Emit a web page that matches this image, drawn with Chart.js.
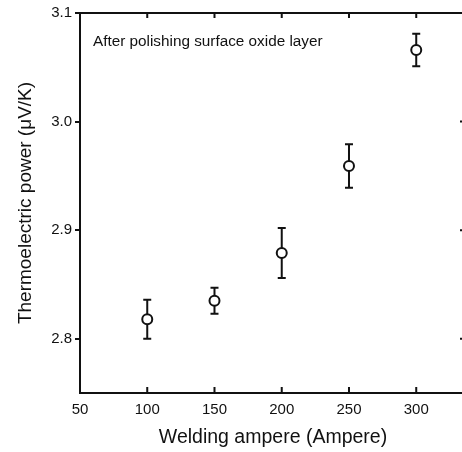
<!DOCTYPE html>
<html>
<head>
<meta charset="utf-8">
<script src="https://cdn.jsdelivr.net/npm/chart.js@4.4.1/dist/chart.umd.min.js"></script>
<style>
  html, body { margin: 0; padding: 0; background: #fff; overflow: hidden; }
  canvas { display: block; }
</style>
</head>
<body>
<canvas id="chart" width="473" height="452"></canvas>
<script>
const amperes = [100, 150, 200, 250, 300];
const power = [2.818, 2.835, 2.879, 2.959, 3.066];
const powerErr = [0.018, 0.012, 0.023, 0.020, 0.015];
const xTicks = [50, 100, 150, 200, 250, 300];
const yTicks = [2.8, 2.9, 3.0, 3.1];
const note = "After polishing surface oxide layer";

const ink = "#111";
const fontFamily = "'Liberation Sans', Arial, sans-serif";

// error bars go under the open circles
const errorBars = {
  id: "errorBars",
  beforeDatasetsDraw(chart) {
    const { ctx, scales: { x, y } } = chart;
    ctx.save();
    ctx.strokeStyle = ink;
    ctx.lineWidth = 2;
    amperes.forEach((a, i) => {
      const px = x.getPixelForValue(a);
      const top = y.getPixelForValue(power[i] + powerErr[i]);
      const bot = y.getPixelForValue(power[i] - powerErr[i]);
      ctx.beginPath();
      ctx.moveTo(px, top);
      ctx.lineTo(px, bot);
      ctx.moveTo(px - 4, top);
      ctx.lineTo(px + 4, top);
      ctx.moveTo(px - 4, bot);
      ctx.lineTo(px + 4, bot);
      ctx.stroke();
    });
    ctx.restore();
  }
};

// top / right frame, inward ticks and the note
const frame = {
  id: "frame",
  afterDraw(chart) {
    const { ctx, chartArea: a, scales: { x, y } } = chart;
    ctx.save();
    ctx.strokeStyle = ink;
    ctx.lineWidth = 2;
    ctx.beginPath();
    ctx.moveTo(a.left, a.top);
    ctx.lineTo(a.right, a.top);
    ctx.lineTo(a.right, a.bottom);
    xTicks.forEach(v => {
      const px = x.getPixelForValue(v);
      if (px <= a.left + 1) return;
      ctx.moveTo(px, a.top);
      ctx.lineTo(px, a.top + 5);
      ctx.moveTo(px, a.bottom);
      ctx.lineTo(px, a.bottom - 6);
    });
    yTicks.forEach(v => {
      const py = y.getPixelForValue(v);
      ctx.moveTo(a.right, py);
      ctx.lineTo(a.right - 6, py);
    });
    ctx.stroke();

    ctx.fillStyle = ink;
    ctx.font = "15.3px " + fontFamily;
    ctx.textBaseline = "middle";
    ctx.fillText(note, a.left + 13, a.top + 29);
    ctx.restore();
  }
};

new Chart(document.getElementById("chart"), {
  type: "scatter",
  data: {
    datasets: [{
      data: amperes.map((a, i) => ({ x: a, y: power[i] })),
      pointStyle: "circle",
      pointRadius: 5,
      pointBorderWidth: 2,
      borderColor: ink,
      backgroundColor: "#fff",
      pointHoverRadius: 5
    }]
  },
  options: {
    responsive: false,
    animation: false,
    events: [],
    layout: { padding: { top: 13, right: 5, bottom: 0, left: 0 } },
    plugins: {
      legend: { display: false },
      tooltip: { enabled: false }
    },
    scales: {
      x: {
        type: "linear",
        min: 50,
        max: 337,
        afterBuildTicks: s => { s.ticks = xTicks.map(v => ({ value: v })); },
        afterFit: s => { s.height = 59; },
        grid: { display: false, drawTicks: false },
        border: { color: ink, width: 2 },
        ticks: {
          color: ink,
          padding: 8,
          maxRotation: 0,
          font: { family: fontFamily, size: 15 }
        },
        title: {
          display: true,
          text: "Welding ampere (Ampere)",
          color: ink,
          padding: { top: 0, bottom: 3 },
          font: { family: fontFamily, size: 19.5 }
        }
      },
      y: {
        min: 2.75,
        max: 3.1,
        afterBuildTicks: s => { s.ticks = yTicks.map(v => ({ value: v })); },
        afterFit: s => { s.width = 80; },
        grid: {
          drawOnChartArea: false,
          drawTicks: true,
          tickLength: 5,
          color: ink,
          lineWidth: 2
        },
        border: { color: ink, width: 2 },
        ticks: {
          color: ink,
          padding: 3,
          font: { family: fontFamily, size: 15 },
          callback: v => v.toFixed(1)
        },
        title: {
          display: true,
          text: "Thermoelectric power (\u03BCV/K)",
          color: ink,
          padding: { top: 14, bottom: 0 },
          font: { family: fontFamily, size: 19 }
        }
      }
    }
  },
  plugins: [errorBars, frame]
});
</script>
</body>
</html>
